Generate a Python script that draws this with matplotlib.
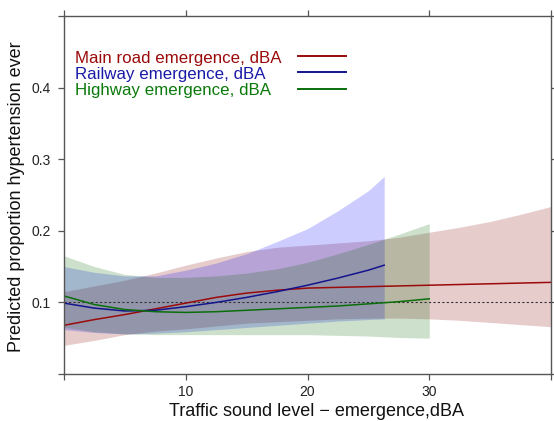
import matplotlib
matplotlib.use("Agg")
import matplotlib.pyplot as plt

plt.rcParams['font.family'] = ['Liberation Sans', 'DejaVu Sans']

# ---- data ----
road_x = [0, 2.5, 5, 7.5, 10, 12.5, 15, 17.5, 20, 22.5, 25, 27.5, 30, 32.5, 35, 37.5, 40]
road_fit = [0.068, 0.076, 0.083, 0.091, 0.099, 0.107, 0.113, 0.117, 0.120, 0.121, 0.122,
            0.123, 0.124, 0.125, 0.126, 0.127, 0.128]
road_hi = [0.115, 0.123, 0.131, 0.141, 0.152, 0.162, 0.171, 0.177, 0.180, 0.183, 0.186,
           0.191, 0.198, 0.205, 0.213, 0.223, 0.234]
road_lo = [0.040, 0.047, 0.055, 0.060, 0.063, 0.067, 0.071, 0.073, 0.075, 0.077, 0.078,
           0.078, 0.077, 0.075, 0.072, 0.069, 0.066]

rail_x = [0, 2.5, 5, 7.5, 10, 12.5, 15, 17.5, 20, 22.5, 25, 26.3]
rail_fit = [0.099, 0.092, 0.088, 0.089, 0.094, 0.100, 0.107, 0.115, 0.124, 0.134, 0.145, 0.152]
rail_hi = [0.150, 0.142, 0.137, 0.137, 0.145, 0.155, 0.168, 0.185, 0.203, 0.228, 0.256, 0.276]
rail_lo = [0.062, 0.058, 0.056, 0.057, 0.059, 0.062, 0.065, 0.068, 0.071, 0.074, 0.076, 0.077]

hwy_x = [0, 2.5, 5, 7.5, 10, 12.5, 15, 17.5, 20, 22.5, 25, 27.5, 30]
hwy_fit = [0.109, 0.097, 0.090, 0.087, 0.086, 0.087, 0.089, 0.091, 0.093, 0.095, 0.098, 0.101, 0.105]
hwy_hi = [0.165, 0.150, 0.139, 0.135, 0.135, 0.137, 0.141, 0.147, 0.156, 0.168, 0.181, 0.195, 0.210]
hwy_lo = [0.065, 0.059, 0.056, 0.055, 0.055, 0.055, 0.055, 0.055, 0.055, 0.054, 0.053, 0.051, 0.050]

labels = ["Main road emergence, dBA", "Railway emergence, dBA", "Highway emergence, dBA"]
reference_level = 0.1

x_ticks = [0, 10, 20, 30, 40]
x_tick_labels = ["", "10", "20", "30", ""]
y_ticks = [0.0, 0.1, 0.2, 0.3, 0.4, 0.5]
y_tick_labels = ["", "0.1", "0.2", "0.3", "0.4", ""]

line_colors = ["#9B0A0A", "#14148C", "#0A6E0A"]
fill_colors = ["#8B0000", "#0000FF", "#006400"]
text_colors = ["#9B0A0A", "#1A1AA8", "#0A7A0A"]

fig = plt.figure(figsize=(5.54, 4.21), dpi=100)
ax = fig.add_axes([64/554, 1 - 374/421, 487/554, 358/421])

series = [(road_x, road_fit, road_lo, road_hi),
          (rail_x, rail_fit, rail_lo, rail_hi),
          (hwy_x, hwy_fit, hwy_lo, hwy_hi)]

for (xs, fit, lo, hi), fc in zip(series, fill_colors):
    ax.fill_between(xs, lo, hi, color=fc, alpha=0.2, linewidth=0)

ax.axhline(reference_level, color="#333333", linestyle=(0, (2.0, 2.0)), linewidth=0.8)

for (xs, fit, lo, hi), lc in zip(series, line_colors):
    ax.plot(xs, fit, color=lc, linewidth=1.1)

# legend (text followed by a line key)
text_y = [0.8696, 0.8249, 0.7793]
key_y = [0.888, 0.843, 0.796]
for lab, tc, lc, ty, ky in zip(labels, text_colors, line_colors, text_y, key_y):
    ax.text(0.0226, ty, lab, color=tc, fontsize=12.2, transform=ax.transAxes,
            ha="left", va="baseline")
    ax.plot([0.4805, 0.579], [ky, ky], color=lc, linewidth=1.4, transform=ax.transAxes)

ax.set_xlim(0, 40)
ax.set_ylim(0, 0.5)
ax.set_xticks(x_ticks)
ax.set_xticklabels(x_tick_labels)
ax.set_yticks(y_ticks)
ax.set_yticklabels(y_tick_labels)

spine_color = "#555555"
for s in ax.spines.values():
    s.set_color(spine_color)
    s.set_linewidth(1.0)

ax.tick_params(axis="both", which="both", direction="out", length=4.3, width=0.9,
               color=spine_color, labelsize=10, labelcolor="#222222",
               top=True, right=True, labeltop=False, labelright=False)
ax.tick_params(axis="y", pad=5.0)
ax.tick_params(axis="x", pad=3.5)

ax.set_xlabel("Traffic sound level \u2212 emergence,dBA", fontsize=13, color="#111111")
ax.set_ylabel("Predicted proportion hypertension ever", fontsize=13, color="#111111")
ax.xaxis.set_label_coords(0.518, -0.082)
ax.yaxis.set_label_coords(-0.080, 0.496)

fig.savefig("out.png", dpi=100)
